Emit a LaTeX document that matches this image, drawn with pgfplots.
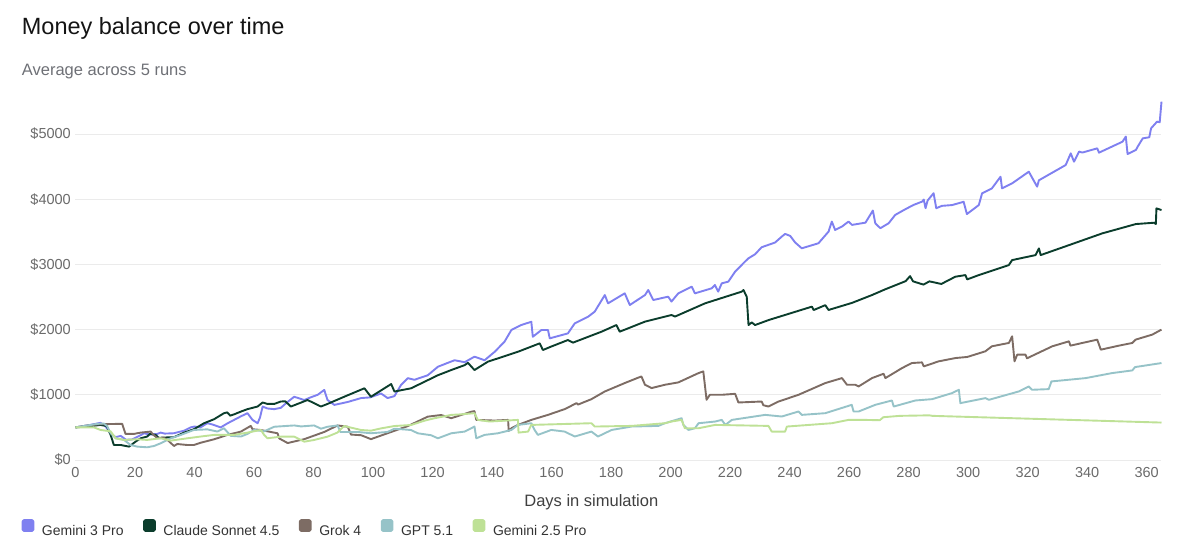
\documentclass[border=0pt]{standalone}
\usepackage{fontspec}
\setmainfont{Liberation Sans}
\usepackage{pgfplots}
\pgfplotsset{compat=1.18}
\usepackage{pgfplotstable}
\definecolor{gemthree}{HTML}{7F80F0}
\definecolor{claude}{HTML}{0B3D2C}
\definecolor{grok}{HTML}{7D6C64}
\definecolor{gpt}{HTML}{96C3C8}
\definecolor{gemtwofive}{HTML}{BEE196}
\definecolor{titlecol}{HTML}{141414}
\definecolor{subcol}{HTML}{6E7076}
\definecolor{tickcol}{HTML}{6A6A6A}
\definecolor{xlabcol}{HTML}{404040}
\definecolor{legcol}{HTML}{333333}
\definecolor{gridcol}{HTML}{EBEBEB}

\pgfplotstableread{
x y
0 500
4 530
7.3 560
8.4 570
10 520
11.8 410
13.5 350
15.2 370
17 310
19 315
21.9 380
23 410
25 390
27.5 400
28.6 420
30 405
33 410
36.5 450
38.7 500
40 513
42 500
44.3 564
46 545
48.8 500
51 560
53.3 615
55.6 670
57.8 718
59.5 615
61.2 564
62 650
62.9 820
64.5 790
66.8 780
69 800
71 880
73.5 970
76.9 920
79 960
81.4 1000
83.6 1075
84.7 920
87 845
91.5 890
96 950
99 960
102.7 1020
104.9 950
107.2 980
109.4 1150
111.7 1255
113.9 1230
118.4 1300
121.8 1430
124 1470
127.4 1530
130.8 1500
134.1 1585
137.5 1530
140.9 1660
144.2 1815
146.5 1994
149.8 2070
153.2 2120
153.7 1890
156.6 1994
158.8 1994
159.4 1866
165.5 1942
167.8 2096
172.3 2198
174.5 2275
177.9 2530
179 2403
184.6 2556
186.3 2377
191.4 2530
192.5 2607
194.2 2454
199.2 2505
200.3 2430
202.6 2556
207.1 2658
208.2 2556
213.8 2633
214.9 2684
216 2582
217.2 2710
219.4 2735
221.7 2889
225 3042
226.2 3094
228.4 3155
230.6 3263
232.9 3300
235.1 3335
237.4 3427
238.5 3468
240.2 3437
241.9 3335
244.1 3247
249.7 3324
253.1 3503
254.2 3657
255.3 3529
257.6 3580
259.8 3657
261 3606
265.5 3640
268 3826
268.8 3631
270.5 3555
273.3 3631
275.5 3759
278.9 3846
281.7 3913
284.6 3964
285.1 3995
285.7 3862
286.4 3980
288.4 4092
289.3 3862
291.2 3898
294.6 3910
298.5 3960
299.6 3772
303.6 3910
304.7 4090
308 4166
310.9 4345
311.4 4166
314.8 4243
320.4 4422
323.2 4192
323.8 4290
332.8 4524
334.5 4703
335.6 4575
337.3 4730
338.4 4715
343.4 4780
344 4714
351.9 4882
353 4960
353.6 4693
356.4 4755
357 4806
358.7 4933
360.9 4950
361.5 5087
363.5 5189
364.4 5180
365 5496
}\gemthreetab

\pgfplotstableread{
x y
0 500
5 520
8.4 538
10.5 520
11.8 385
12.9 230
15.2 230
18 205
20.2 282
21.9 333
24.1 360
25 400
26.9 385
28 340
30 345
33.1 350
36.5 420
39.8 472
43.2 564
46.6 626
49.9 718
51 730
52 680
53.3 700
55.6 743
57.8 780
61.2 820
62.9 882
64.5 860
66.8 860
69 897
70.5 900
72.4 820
78 920
82.5 820
84.7 860
90.3 970
97.1 1100
99.3 970
106.1 1165
107.2 1050
112.8 1100
121.8 1300
126.3 1380
130.8 1455
131.9 1490
134.1 1380
138.6 1508
148.7 1660
156 1789
157.1 1687
159.9 1740
165.5 1840
167.2 1800
176.8 1968
181.8 2070
182.9 1968
191.4 2122
200.3 2224
201.5 2200
211.6 2403
223.9 2582
224.5 2607
225.6 2505
226.2 2070
227.3 2110
228.4 2070
233 2147
247.5 2352
248.1 2300
252 2375
253.1 2301
261 2410
267.7 2530
272 2615
279 2743
280.5 2820
281.5 2740
285 2690
287 2740
291 2700
295.7 2811
299.1 2836
299.7 2770
303.6 2836
313.7 2990
314.8 3066
322.7 3143
323.8 3245
324.4 3143
334 3297
345.1 3476
356.4 3619
362.5 3639
363.1 3620
363.3 3859
365 3834
}\claudetab

\pgfplotstableread{
x y
0 500
4 530
8.4 549
14.6 554
15.7 554
16.8 400
19.6 400
21.9 420
25.3 436
25.9 400
27.5 333
29.7 340
30.9 308
33.1 215
34.2 245
37.6 230
39.8 230
42.1 265
46.6 318
51.1 385
55.6 436
58.9 523
59.5 472
62.3 460
64.5 440
67.9 410
68.5 330
71.3 260
76.9 320
83.6 430
88.1 530
91.5 510
92.6 390
96 380
99.3 320
106.1 430
111.7 520
118.4 665
122.9 690
126.3 641
133 740
134.1 750
134.7 615
140.9 605
145.4 615
145.6 446
146.5 487
148.7 538
153.2 615
158.8 692
164.4 780
168.4 872
168.9 850
173.4 933
177.9 1051
184.6 1180
190.2 1282
191.4 1154
193.6 1103
198.1 1154
202.6 1190
209.4 1333
211 1359
212.1 923
213.2 1000
217.2 1000
221.7 1015
222.8 882
230.6 897
231.2 840
232.9 820
236.3 897
243 1000
252 1180
257.6 1256
259.3 1154
262.1 1154
263.2 1128
267.7 1256
271.6 1323
272.2 1256
277.8 1410
281.1 1487
284.5 1497
285.1 1436
290.1 1513
295.8 1564
299.7 1580
305.8 1667
308 1744
313.7 1795
314.8 1897
315.6 1513
316.5 1615
319.3 1615
319.8 1560
328.3 1744
333.9 1820
334.4 1754
343.4 1846
344.6 1692
350.7 1754
355.2 1795
356.3 1846
361.9 1923
365 2000
}\groktab

\pgfplotstableread{
x y
0 500
7.3 554
9.5 560
10.6 520
11.8 410
13.5 333
16.3 308
18.5 230
20.8 205
24.1 195
26.4 215
28.6 256
32 333
35.4 385
39.8 461
44.3 470
47.7 436
49.9 487
52.2 370
55.6 360
57.8 400
60 461
63.4 440
66.8 510
73.5 530
75.8 515
80.2 530
82.5 480
84.7 510
88.1 530
89 430
94.8 430
99.3 410
104.9 430
107.2 480
112.8 460
115 410
119.5 380
121.8 333
126.3 410
130.8 436
134.1 513
134.7 333
137.5 385
142 410
146.5 461
148.7 538
153.2 564
154.3 461
155.4 385
159.9 461
164.4 436
167.8 360
173.4 436
175.6 360
180.2 461
186.9 513
195.9 523
198.1 564
203.7 641
204.3 538
206 461
208.2 487
209.4 564
215 590
217.2 615
218.4 538
220.6 615
231.8 692
237.4 667
243 744
244.1 692
252 718
260.9 846
261.5 744
263.2 744
268.8 846
274.4 913
275 820
282.3 913
287.9 933
294.6 1026
296.9 1077
297.4 872
305.8 949
307 923
317 1051
320.4 1128
321.5 1077
327.1 1087
328 1205
339.5 1256
348.4 1333
355.2 1374
356.1 1425
365 1487
}\gpttab

\pgfplotstableread{
x y
0 500
6.2 500
8.4 461
11.8 440
13.5 333
16.3 308
20.8 318
24.1 308
28.6 333
32 297
37.6 333
42.1 360
46.6 385
53.3 385
57.8 420
62.3 461
63.4 385
64.5 333
69 358
73.5 358
76.9 281
80.2 307
84.7 358
88 420
90.3 521
96 460
99.3 450
102.7 485
107.2 521
112.8 537
117.3 603
120.6 640
124 670
126.3 692
129.6 700
134.1 718
135.2 615
139.2 590
148.7 615
148.9 420
152.1 436
153.2 538
173.4 564
174.5 513
186.9 523
198.1 564
200.3 590
203.7 615
204.8 487
209.4 487
215 538
232.9 523
234 436
238.5 436
239.1 513
254.2 564
259.8 615
265.4 615
270.3 610
271.5 656
277 677
287 685
288 677
365 574
}\gemtwofivetab

\begin{document}
\begin{tikzpicture}[x=1pt,y=1pt]
\path[use as bounding box] (0,0) rectangle (1200,551);
\node[anchor=base west, inner sep=0pt, font=\fontsize{23.5}{28}\selectfont, text=titlecol] at (21.7,516) {Money balance over time};
\node[anchor=base west, inner sep=0pt, font=\fontsize{16.5}{20}\selectfont, text=subcol] at (21.7,475.5) {Average across 5 runs};
\node[anchor=base, inner sep=0pt, font=\fontsize{16.5}{20}\selectfont, text=xlabcol] at (591.3,44.3) {Days in simulation};
\begin{axis}[
  at={(75.5pt,91pt)}, anchor=south west, scale only axis,
  width=1086pt, height=358.6pt,
  xmin=0, xmax=365, ymin=0, ymax=5500,
  clip=false,
  axis line style={draw=none},
  major tick length=0pt,
  xtick={0,20,...,360},
  ytick={0,1000,2000,3000,4000,5000},
  ymajorgrids,
  grid style={draw=gridcol, line width=0.9pt},
  /pgf/number format/assume math mode=true,
  /pgf/number format/1000 sep={},
  yticklabel={\$\pgfmathprintnumber{\tick}},
  ticklabel style={font=\fontsize{14.5}{17}\selectfont, text=tickcol, inner sep=0pt},
  yticklabel style={anchor=east, xshift=-4.5pt},
  xticklabel style={anchor=north, yshift=-7.5pt},
  legend columns=-1,
  legend cell align=left,
  legend image code/.code={\fill[#1, rounded corners=1.2pt] (0pt,0pt) rectangle (10.7pt,10.7pt);},
  legend style={draw=none, fill=none, inner sep=0pt, outer sep=0pt,
    at={(axis description cs:0,0)}, anchor=south west,
    xshift=-53.8pt, yshift=-76.7pt,
    font=\fontsize{14}{17}\selectfont, text=legcol,
    nodes={inner sep=0pt},
    /tikz/every odd column/.append style={column sep=7.7pt},
    /tikz/every even column/.append style={column sep=19.5pt}},
  every axis plot/.append style={line width=1.9pt, line join=round, mark=none},
]
\addplot[gemthree] table[x=x,y=y] {\gemthreetab};
\addlegendentry{Gemini 3 Pro}
\addplot[claude] table[x=x,y=y] {\claudetab};
\addlegendentry{Claude Sonnet 4.5}
\addplot[grok] table[x=x,y=y] {\groktab};
\addlegendentry{Grok 4}
\addplot[gpt] table[x=x,y=y] {\gpttab};
\addlegendentry{GPT 5.1}
\addplot[gemtwofive] table[x=x,y=y] {\gemtwofivetab};
\addlegendentry{Gemini 2.5 Pro}
\end{axis}
\end{tikzpicture}
\end{document}
